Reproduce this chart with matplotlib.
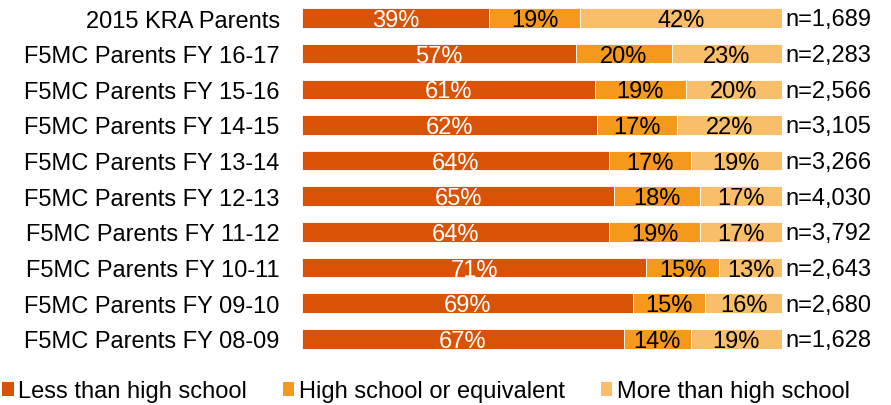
import numpy as np
import matplotlib.pyplot as plt
from matplotlib.patches import Patch

plt.rcParams['font.family'] = ['Liberation Sans', 'DejaVu Sans']

groups = ['2015 KRA Parents', 'F5MC Parents FY 16-17', 'F5MC Parents FY 15-16',
          'F5MC Parents FY 14-15', 'F5MC Parents FY 13-14', 'F5MC Parents FY 12-13',
          'F5MC Parents FY 11-12', 'F5MC Parents FY 10-11', 'F5MC Parents FY 09-10',
          'F5MC Parents FY 08-09']
less_hs = [39, 57, 61, 62, 64, 65, 64, 71, 69, 67]
hs_equiv = [19, 20, 19, 17, 17, 18, 19, 15, 15, 14]
more_hs = [42, 23, 20, 22, 19, 17, 17, 13, 16, 19]
n_sizes = ['1,689', '2,283', '2,566', '3,105', '3,266', '4,030', '3,792', '2,643', '2,680', '1,628']

series_names = ['Less than high school', 'High school or equivalent', 'More than high school']
colors = ['#D95306', '#F5991C', '#F9BE6A']
text_colors = ['white', 'black', 'black']
fs = 17

fig = plt.figure(figsize=(8.91, 4.06), dpi=100)
ax = fig.add_axes([0.339, 0.119, 0.5387, 0.878])

data = np.array([less_hs, hs_equiv, more_hs], dtype=float)
totals = data.sum(axis=0)
shares = data / totals
y = np.arange(len(groups))

left = np.zeros(len(groups))
for i in range(3):
    ax.barh(y, shares[i], left=left, height=0.55, color=colors[i],
            edgecolor='white', linewidth=0.6)
    for j in range(len(groups)):
        ax.text(left[j] + shares[i][j] / 2, y[j] + 0.06, f'{int(data[i][j])}%',
                ha='center', va='center', fontsize=fs, color=text_colors[i])
    left += shares[i]

for j in range(len(groups)):
    ax.text(1.008, y[j] + 0.04, 'n=' + n_sizes[j], ha='left', va='center',
            fontsize=fs, color='black', clip_on=False)

ax.set_xlim(0, 1)
ax.set_ylim(len(groups) - 0.5, -0.5)
ax.set_yticks(y)
ax.set_yticklabels(groups, fontsize=fs)
ax.tick_params(axis='y', length=0, pad=16)
ax.set_xticks([])
for s in ax.spines.values():
    s.set_visible(False)

handles = [Patch(facecolor=c) for c in colors]
fig.legend(handles, series_names, loc='center left', bbox_to_anchor=(0.002, 0.034),
           ncol=3, frameon=False, fontsize=fs, handlelength=0.5, handleheight=0.5,
           handletextpad=0.2, columnspacing=1.5, borderpad=0, borderaxespad=0)

fig.savefig('out.png', dpi=100)
